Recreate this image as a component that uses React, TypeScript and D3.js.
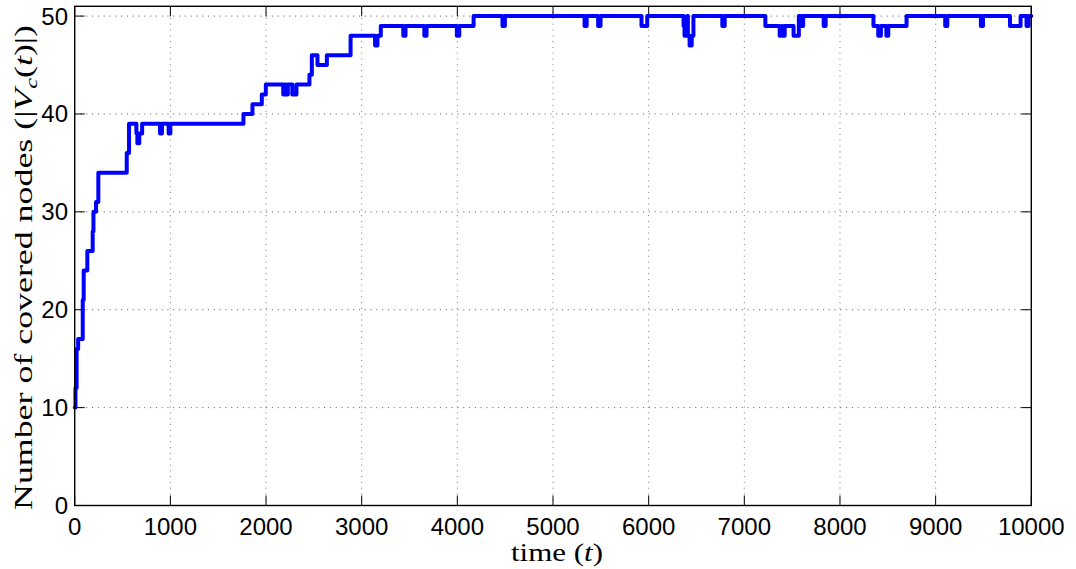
import React from 'react';
import * as d3 from 'd3';

// Step times (t) and number of covered nodes |Vc(t)| after each step
const times = [
  0, 8, 20, 36, 84, 94, 132, 188, 196, 223, 247, 544, 568, 645, 655, 675, 705,
  892, 912, 982, 1000, 1764, 1858, 1956, 1998, 2180, 2198, 2208, 2228, 2275, 2318,
  2454, 2479, 2538, 2636, 2884, 3140, 3165, 3200, 3435, 3458, 3655, 3678, 3995, 4020,
  4170, 4472, 4497, 5330, 5352, 5472, 5497, 5925, 5985, 6365, 6375, 6403, 6410, 6428,
  6450, 6468, 6770, 6795, 7220, 7370, 7393, 7400, 7422, 7515, 7570, 7595, 7615, 7830,
  7850, 8350, 8400, 8428, 8485, 8505, 8696, 9100, 9122, 9473, 9495, 9777, 9888, 9950,
  9972, 10000,
];
const covered = [
  10, 12, 16, 17, 21, 24, 26, 28, 30, 31, 34, 36, 39, 38, 37, 38, 39,
  38, 39, 38, 39, 40, 41, 42, 43, 42, 43, 42, 43, 42, 43,
  44, 46, 45, 46, 48, 47, 48, 49, 48, 49, 48, 49, 48, 49,
  50, 49, 50, 49, 50, 49, 50, 49, 50, 49, 48, 50, 48, 47,
  48, 50, 49, 50, 49, 48, 49, 48, 49, 48, 50, 49, 50, 49,
  50, 49, 48, 49, 48, 49, 50, 49, 50, 49, 50, 49, 50, 49,
  50, 50,
];
const xTicks = [0, 1000, 2000, 3000, 4000, 5000, 6000, 7000, 8000, 9000, 10000];
const yTicks = [0, 10, 20, 30, 40, 50];

export default function App() {
  const W = 1076;
  const H = 569;
  const left = 74.7, right = 1031.3, top = 6.3, bottom = 505.5;
  const x = d3.scaleLinear().domain([0, 10000]).range([left, right]);
  const y = d3.scaleLinear().domain([0, 51]).range([bottom, top]);
  const data: [number, number][] = times.map((t, i) => [t, covered[i]]);
  const line = d3
    .line<[number, number]>()
    .x((d) => x(d[0]))
    .y((d) => y(d[1]))
    .curve(d3.curveStepAfter);
  const tickLen = 10;
  const sans = '"Liberation Sans", Arial, Helvetica, sans-serif';
  const serif = '"Liberation Serif", "DejaVu Serif", serif';

  return (
    <svg
      width={W}
      height={H}
      style={{ position: 'absolute', left: 0, top: 0, background: '#fff' }}
    >
      <rect x={0} y={0} width={W} height={H} fill="#fff" />
      {/* grid */}
      {xTicks
        .filter((t) => t > 0 && t < 10000)
        .map((t) => (
          <line
            key={'gx' + t}
            x1={x(t)}
            x2={x(t)}
            y1={top}
            y2={bottom}
            stroke="#777"
            strokeWidth={1}
            strokeDasharray="1 4.8"
          />
        ))}
      {yTicks
        .filter((t) => t > 0)
        .map((t) => (
          <line
            key={'gy' + t}
            x1={left}
            x2={right}
            y1={y(t)}
            y2={y(t)}
            stroke="#555"
            strokeWidth={1}
            strokeDasharray="1 4.8"
          />
        ))}
      {/* ticks */}
      {xTicks.map((t) => (
        <g key={'tx' + t}>
          <line x1={x(t)} x2={x(t)} y1={bottom} y2={bottom - tickLen} stroke="#000" strokeWidth={1} />
          <line x1={x(t)} x2={x(t)} y1={top} y2={top + tickLen} stroke="#000" strokeWidth={1} />
          <text
            x={x(t)}
            y={535}
            textAnchor="middle"
            fontFamily={sans}
            fontSize={24}
            fill="#000"
          >
            {t}
          </text>
        </g>
      ))}
      {yTicks.map((t) => (
        <g key={'ty' + t}>
          <line x1={left} x2={left + tickLen} y1={y(t)} y2={y(t)} stroke="#000" strokeWidth={1} />
          <line x1={right} x2={right - tickLen} y1={y(t)} y2={y(t)} stroke="#000" strokeWidth={1} />
          <text
            x={68}
            y={y(t) + 8.5}
            textAnchor="end"
            fontFamily={sans}
            fontSize={24}
            fill="#000"
          >
            {t}
          </text>
        </g>
      ))}
      {/* data line */}
      <path
        d={line(data) || ''}
        fill="none"
        stroke="#0000ff"
        strokeWidth={4}
        strokeLinejoin="round"
        strokeLinecap="round"
      />
      {/* frame */}
      <rect
        x={left}
        y={top}
        width={right - left}
        height={bottom - top}
        fill="none"
        stroke="#000"
        strokeWidth={1.4}
      />
      {/* x label */}
      <text
        x={511}
        y={561}
        fontFamily={serif}
        fontSize={25}
        fill="#000"
        textLength={92}
        lengthAdjust="spacingAndGlyphs"
      >
        time (<tspan fontStyle="italic">t</tspan>)
      </text>
      {/* y label */}
      <text
        transform="translate(32,510) rotate(-90)"
        x={0}
        y={0}
        fontFamily={serif}
        fontSize={25}
        fill="#000"
        textLength={485}
        lengthAdjust="spacingAndGlyphs"
      >
        Number of covered nodes (|<tspan fontStyle="italic">V</tspan>
        <tspan fontStyle="italic" fontSize={17} dy={5}>c</tspan>
        <tspan dy={-5}>(</tspan>
        <tspan fontStyle="italic">t</tspan>)|)
      </text>
    </svg>
  );
}
